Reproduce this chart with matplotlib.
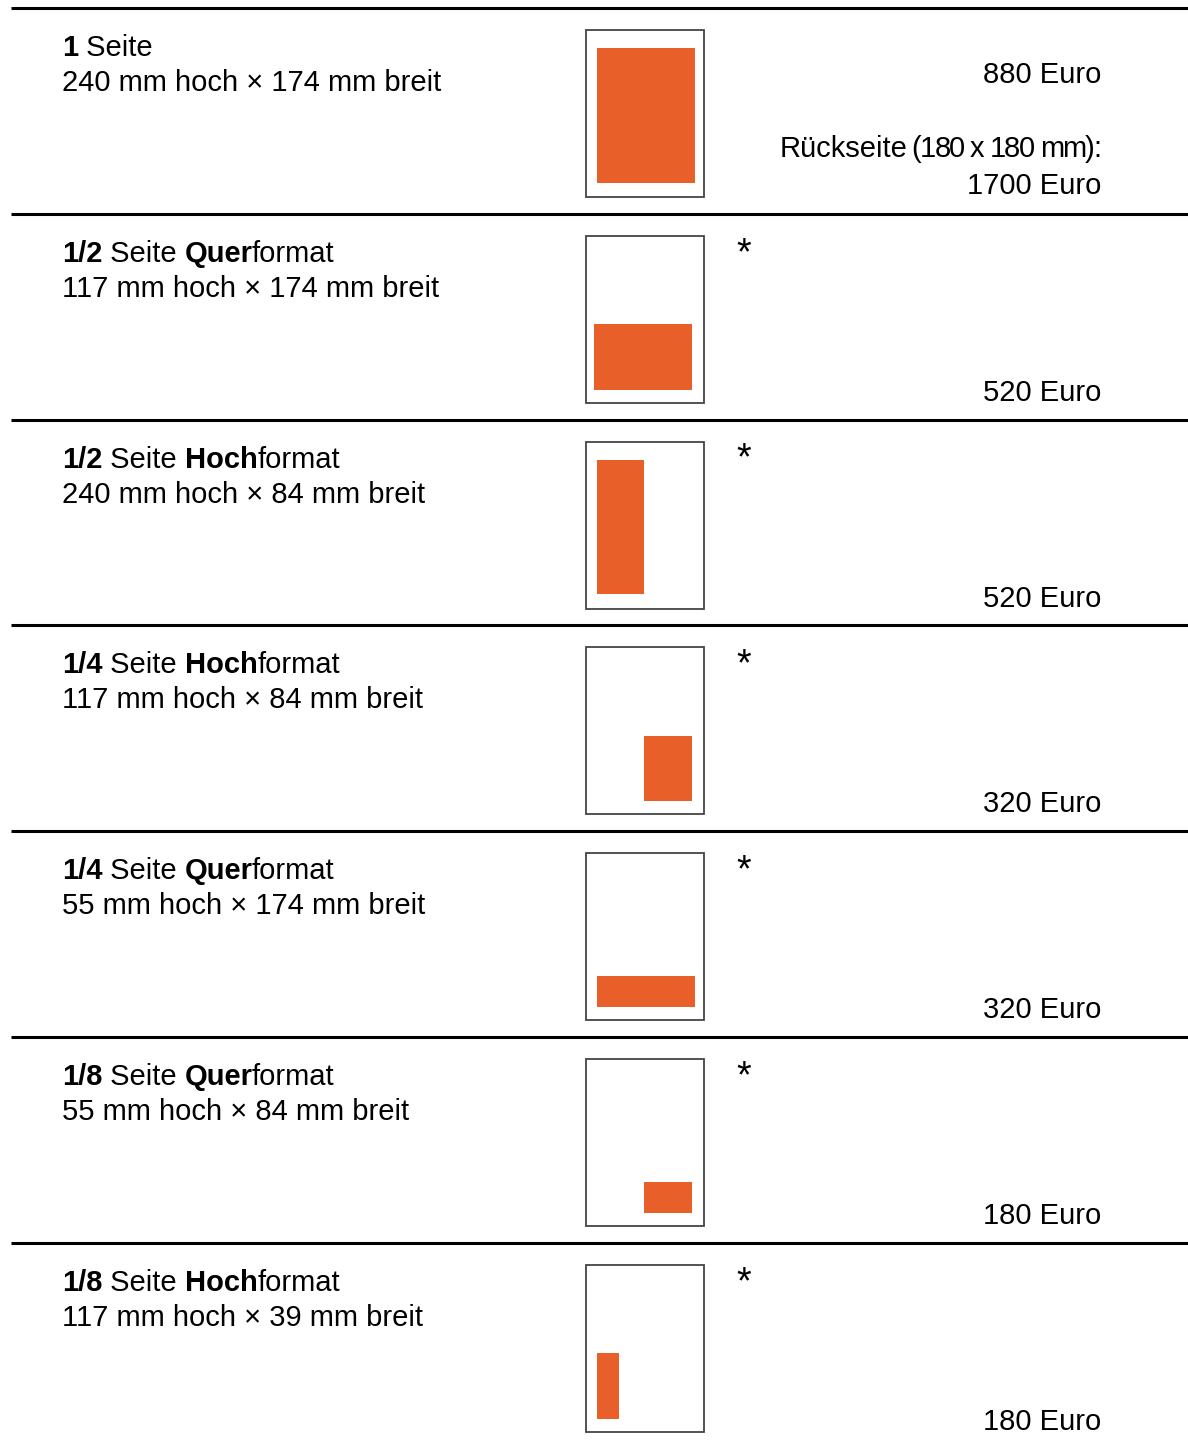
import matplotlib
matplotlib.use("Agg")
import matplotlib.pyplot as plt
from matplotlib.patches import Rectangle
from matplotlib import font_manager

# ---------------- data ----------------
titles_num = ["1", "1/2", "1/2", "1/4", "1/4", "1/8", "1/8"]
titles_fmt = ["", "Quer", "Hoch", "Hoch", "Quer", "Quer", "Hoch"]
heights_mm = [240, 117, 240, 117, 55, 55, 117]
widths_mm = [174, 174, 84, 84, 174, 84, 39]
prices_euro = [880, 520, 520, 320, 320, 180, 180]
back_price_euro = 1700
back_size_mm = (180, 180)
page_mm = (210, 297)   # A4 page
# ---------------------------------------

W, H = 1188, 1441
fig = plt.figure(figsize=(W / 100, H / 100), dpi=100)
ax = fig.add_axes([0, 0, 1, 1])
ax.set_xlim(0, W)
ax.set_ylim(H, 0)
ax.axis("off")

names = {f.name for f in font_manager.fontManager.ttflist}
FONT = "Liberation Sans" if "Liberation Sans" in names else "DejaVu Sans"
FS = 21
ORANGE = "#E85F29"

row_top0 = 8
row_h = 205.8
scale = 0.562  # px per mm
box_x = 585.5
box_w = page_mm[0] * scale
box_h = page_mm[1] * scale

# placement of the ad inside the page (horizontal anchor, vertical anchor)
place = [("left", "top"), ("left9", "bottom"), ("left", "top"), ("right", "bottom"),
         ("left", "bottom"), ("right", "bottom"), ("left", "bottom")]

fig.canvas.draw()
renderer = fig.canvas.get_renderer()


def ink_width(s, weight="normal", size=FS):
    t = ax.text(0, 0, s, fontsize=size, fontweight=weight, family=FONT)
    w = t.get_window_extent(renderer).width
    t.remove()
    return w


def adv_width(s, weight="normal", size=FS):
    return ink_width("X" + s + "X", weight, size) - ink_width("XX", weight, size)


n = len(prices_euro)
# separator lines
for i in range(n):
    y = row_top0 + i * row_h
    ax.plot([11, W], [y, y], color="black", lw=2.2, solid_capstyle="butt")

for i in range(n):
    top = row_top0 + i * row_h
    # title line with mixed weights
    pieces = [(titles_num[i], "bold"), (" Seite ", "normal")]
    if titles_fmt[i]:
        pieces += [(titles_fmt[i], "bold"), ("format", "normal")]
    x = 62
    for s, wgt in pieces:
        ax.text(x, top + 48, s, fontsize=FS, fontweight=wgt, family=FONT,
                va="baseline", ha="left")
        x += adv_width(s, wgt)
        if s.endswith("r"):
            x -= 2.0
    ax.text(62, top + 83, f"{heights_mm[i]} mm hoch \u00d7 {widths_mm[i]} mm breit",
            fontsize=FS, family=FONT, va="baseline", ha="left")

    # page box
    by = top + 22
    ax.add_patch(Rectangle((box_x, by), box_w, box_h, facecolor="white",
                           edgecolor="#444444", lw=1.3))
    rw = widths_mm[i] * scale
    rh = heights_mm[i] * scale
    hx, vy = place[i]
    if hx == "left":
        rx = box_x + 11.5
    elif hx == "left9":
        rx = box_x + 8.5
    else:
        rx = box_x + box_w - 12 - rw
    if vy == "top":
        ry = by + 18
    else:
        ry = by + box_h - 13 - rh
    ax.add_patch(Rectangle((rx, ry), rw, rh, facecolor=ORANGE, edgecolor="none"))

    # prices
    if i == 0:
        ax.text(1101, top + 75, f"{prices_euro[i]} Euro", fontsize=FS, family=FONT,
                va="baseline", ha="right")
        # condensed parenthetical, drawn char by char with tight tracking
        part2 = f"({back_size_mm[0]} x {back_size_mm[1]} mm):"
        track = -1.6
        advs = [adv_width(c) for c in part2]
        total = sum(advs) + track * (len(part2) - 1)
        cx = 1101 - total
        start = cx
        for c, a in zip(part2, advs):
            ax.text(cx, top + 149, c, fontsize=FS, family=FONT,
                    va="baseline", ha="left")
            cx += a + track
        ax.text(start - 4, top + 149, "R\u00fcckseite", fontsize=FS, family=FONT,
                va="baseline", ha="right")
        ax.text(1101, top + 186, f"{back_price_euro} Euro", fontsize=FS, family=FONT,
                va="baseline", ha="right")
    else:
        ax.text(744, top + 40, "*", fontsize=FS + 6, family=FONT,
                va="center", ha="center")
        ax.text(1101, top + 187, f"{prices_euro[i]} Euro", fontsize=FS, family=FONT,
                va="baseline", ha="right")

fig.savefig("out.png", dpi=100)
